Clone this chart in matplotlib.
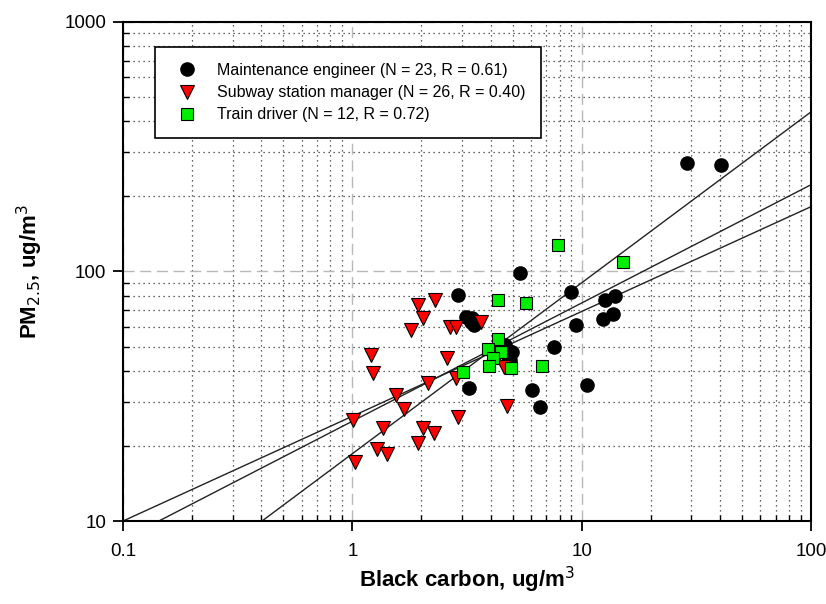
import numpy as np
import matplotlib.pyplot as plt
from matplotlib.ticker import LogLocator, FixedLocator, NullFormatter

plt.rcParams['font.family'] = ['Liberation Sans', 'DejaVu Sans']

# Maintenance engineer (black circles)
eng_bc = [28.8, 40.6, 5.38, 2.89, 3.12, 3.32, 3.39, 3.28, 8.95, 12.6, 14.0, 12.4, 13.7,
          9.44, 7.57, 4.77, 4.96, 4.62, 4.85, 3.23, 6.05, 10.5, 6.58]
eng_pm = [272, 267, 99, 80.2, 65.7, 64.9, 61.1, 63.0, 83.1, 76.9, 79.8, 64.5, 67.4,
          61.1, 49.9, 45.8, 47.5, 50.7, 44.0, 34.0, 33.6, 35.0, 28.6]

# Subway station manager (red triangles)
mgr_bc = [1.93, 2.29, 2.03, 1.80, 2.66, 2.83, 3.63, 1.20, 1.23, 2.58, 2.13, 1.55, 2.83,
          4.58, 1.68, 1.01, 1.36, 2.03, 1.93, 1.28, 1.41, 1.03, 4.72, 2.88, 2.27, 4.30]
mgr_pm = [73.5, 76.9, 65.2, 58.2, 59.9, 59.9, 62.8, 46.2, 39.1, 45.0, 35.6, 31.9, 37.3,
          41.4, 28.1, 25.3, 23.7, 23.5, 20.6, 19.5, 18.6, 17.3, 29.0, 26.2, 22.5, 46.0]

# Train driver (green squares)
drv_bc = [4.32, 5.71, 4.32, 3.89, 4.43, 4.09, 3.95, 4.91, 6.69, 3.02, 7.91, 15.1]
drv_pm = [76.9, 74.7, 53.5, 48.8, 47.6, 45.0, 41.8, 40.9, 41.8, 39.6, 128, 109]

# regression lines in log10 space: log(PM) = a + b * log(BC)
fit_a = [1.42, 1.40, 1.27]
fit_b = [0.42, 0.474, 0.685]

fig = plt.figure(figsize=(8.26, 6.04), dpi=100)
ax = fig.add_axes([0.149, 0.1374, 0.833, 0.8262])
ax.set_xscale('log')
ax.set_yscale('log')
ax.set_xlim(0.1, 100)
ax.set_ylim(10, 1000)

# grid: dotted minor, dashed grey major
ax.xaxis.set_minor_locator(LogLocator(base=10, subs=np.arange(2, 10)))
ax.yaxis.set_minor_locator(LogLocator(base=10, subs=np.arange(2, 10)))
ax.xaxis.set_minor_formatter(NullFormatter())
ax.yaxis.set_minor_formatter(NullFormatter())
ax.grid(which='minor', color='#333333', linestyle=(0, (1, 3)), linewidth=0.9)
ax.grid(which='major', color='#b8b8b8', linestyle=(0, (8, 4)), linewidth=1.0)

xs = np.logspace(-1, 2, 200)
for a, b in zip(fit_a, fit_b):
    ax.plot(xs, 10 ** (a + b * np.log10(xs)), color='#222222', linewidth=1.0, zorder=2)

ax.plot(eng_bc, eng_pm, 'o', color='black', markersize=9.5, zorder=3,
        label='Maintenance engineer (N = 23, R = 0.61)')
ax.plot(mgr_bc, mgr_pm, 'v', markerfacecolor='#ff0000', markeredgecolor='black',
        markersize=10, markeredgewidth=0.8, zorder=4,
        label='Subway station manager (N = 26, R = 0.40)')
ax.plot(drv_bc, drv_pm, 's', markerfacecolor='#00ee00', markeredgecolor='black',
        markersize=9, markeredgewidth=0.8, zorder=5,
        label='Train driver (N = 12, R = 0.72)')

ax.xaxis.set_major_locator(FixedLocator([0.1, 1, 10, 100]))
ax.yaxis.set_major_locator(FixedLocator([10, 100, 1000]))
ax.set_xticklabels(['0.1', '1', '10', '100'])
ax.set_yticklabels(['10', '100', '1000'])
ax.tick_params(which='major', direction='out', length=7, width=1.3, labelsize=13.5)
ax.tick_params(axis='x', which='major', pad=9)
ax.tick_params(axis='y', which='major', pad=5)
ax.tick_params(which='minor', direction='in', length=4, width=1.0)
for s in ax.spines.values():
    s.set_linewidth(1.5)

ax.set_xlabel('Black carbon, ug/m$^3$', fontsize=16, fontweight='bold', labelpad=3)
ax.set_ylabel('PM$_{2.5}$, ug/m$^3$', fontsize=16, fontweight='bold', labelpad=14)

leg = ax.legend(loc='upper left', bbox_to_anchor=(0.046, 0.95), fontsize=11.5,
                frameon=True, fancybox=False, edgecolor='black', framealpha=1,
                borderpad=1.0, handlelength=2.0, handletextpad=0.9,
                labelspacing=0.45, borderaxespad=0)
leg.get_frame().set_linewidth(1.2)

fig.savefig('out.png', dpi=100)
